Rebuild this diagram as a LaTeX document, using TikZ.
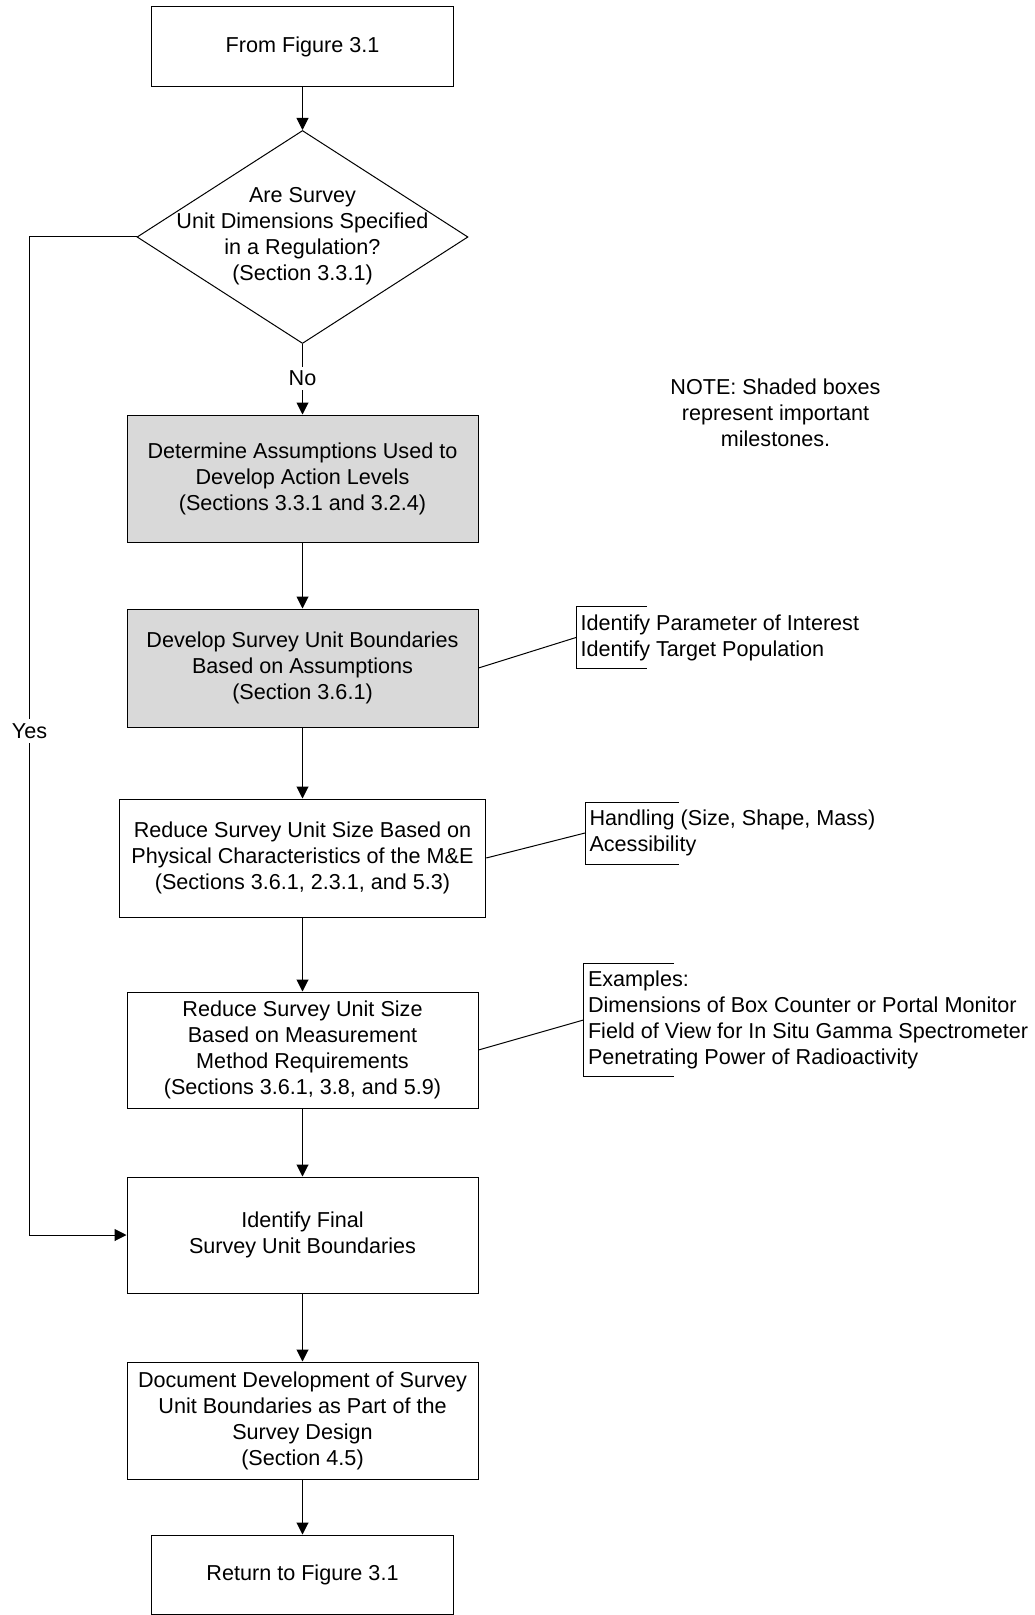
\documentclass[tikz,border=0pt]{standalone}
\usepackage{fontspec}
\setmainfont{Liberation Sans}
\usetikzlibrary{arrows.meta,shapes.geometric}
\begin{document}
\begin{tikzpicture}[x=0.5pt,y=-0.5pt,
  line width=0.5pt,
  font=\fontsize{10.8pt}{13pt}\selectfont,
  proc/.style={draw, align=center, inner sep=0pt, minimum width=175.5pt, minimum height=59pt},
  milestone/.style={proc, fill=gray!30},
  term/.style={draw, align=center, inner sep=0pt, minimum width=151pt, minimum height=40pt},
  decision/.style={draw, diamond, inner sep=0pt, minimum width=165.5pt, minimum height=106.5pt},
  plain/.style={align=center, inner sep=0pt},
  note/.style={align=left, inner xsep=2pt, inner ysep=0pt, anchor=west},
  flow/.style={-{Triangle[length=6pt,width=6pt]}},
  lbl/.style={fill=white, inner xsep=1pt, inner ysep=2pt}
]
\useasboundingbox (0,0) rectangle (1034,1615);

% main column
\node[term] (from) at (302.5,47) {From Figure 3.1};
\node[decision] (q) at (302.5,237) {};
\node[plain] (qt) at (302.5,236) {Are Survey\\Unit Dimensions Specified\\in a Regulation?\\(Section 3.3.1)};
\node[milestone, minimum height=63.5pt] (det) at (302.5,478.5) {Determine Assumptions Used to\\Develop Action Levels\\(Sections 3.3.1 and 3.2.4)};
\node[milestone] (dev) at (302.5,668) {Develop Survey Unit Boundaries\\Based on Assumptions\\(Section 3.6.1)};
\node[proc, minimum width=183.25pt] (red1) at (302.5,858) {Reduce Survey Unit Size Based on\\Physical Characteristics of the M\&E\\(Sections 3.6.1, 2.3.1, and 5.3)};
\node[proc, minimum height=58pt] (red2) at (302.5,1050) {Reduce Survey Unit Size\\Based on Measurement\\Method Requirements\\(Sections 3.6.1, 3.8, and 5.9)};
\node[proc, minimum height=58pt] (fin) at (302.5,1235) {Identify Final\\Survey Unit Boundaries};
\node[proc, minimum height=58.5pt] (doc) at (302.5,1420.5) {Document Development of Survey\\Unit Boundaries as Part of the\\Survey Design\\(Section 4.5)};
\node[term, minimum height=39.5pt] (ret) at (302.5,1574.5) {Return to Figure 3.1};

% note
\node[plain] (note) at (775.5,413) {NOTE: Shaded boxes\\represent important\\milestones.};

% side notes
\node[note, minimum height=30.5pt] (n1) at (576,637.5) {Identify Parameter of Interest\\Identify Target Population};
\node[note, minimum height=30.5pt] (n2) at (585,833) {Handling (Size, Shape, Mass)\\Acessibility};
\node[note, minimum height=56pt] (n3) at (583.5,1020) {Examples:\\Dimensions of Box Counter or Portal Monitor\\Field of View for In Situ Gamma Spectrometer\\Penetrating Power of Radioactivity};

\draw ([xshift=35.5pt]n1.north west) -- (n1.north west) -- (n1.south west) -- ([xshift=35.5pt]n1.south west);
\draw ([xshift=47pt]n2.north west) -- (n2.north west) -- (n2.south west) -- ([xshift=47pt]n2.south west);
\draw ([xshift=45.25pt]n3.north west) -- (n3.north west) -- (n3.south west) -- ([xshift=45.25pt]n3.south west);

\draw (dev.east) -- (n1.west);
\draw (red1.east) -- (n2.west);
\draw (red2.east) -- (n3.west);

% flow
\draw[flow] (from.south) -- (q.north);
\draw[flow] (q.south) -- node[lbl, pos=0.49] (no) {No} (det.north);
\draw[flow] (det.south) -- (dev.north);
\draw[flow] (dev.south) -- (red1.north);
\draw[flow] (red1.south) -- (red2.north);
\draw[flow] (red2.south) -- (fin.north);
\draw[flow] (fin.south) -- (doc.north);
\draw[flow] (doc.south) -- (ret.north);

\coordinate (y1) at (29.5,237);
\coordinate (y2) at (29.5,1235);
\draw[flow] (q.west) -- (y1) -- (y2) -- (fin.west);
\node[lbl] (yes) at (29.5,731) {Yes};
\end{tikzpicture}
\end{document}
